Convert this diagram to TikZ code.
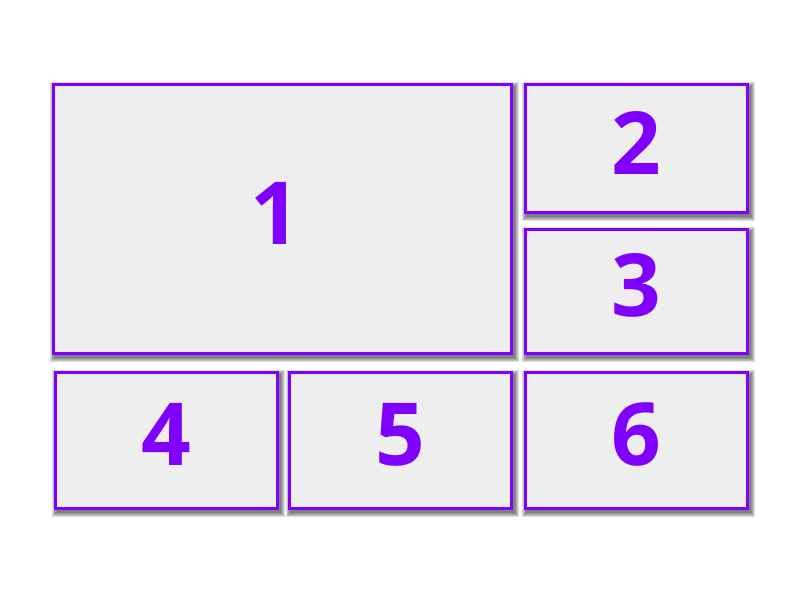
\documentclass[tikz,border=0pt]{standalone}
\usepackage{fontspec}
\setmainfont{Open Sans}
\usetikzlibrary{backgrounds}
\definecolor{violet}{RGB}{127,0,255}
\definecolor{panegray}{RGB}{238,238,238}

\begin{document}
\begin{tikzpicture}[x=1pt, y=-1pt, inner sep=0pt,
      pane/.style={rectangle, draw=violet, fill=panegray, line width=3pt,
        text=violet, text depth=12pt,
        font=\fontsize{87}{87}\selectfont\bfseries},
      shade/.style={fill=black, opacity=.13}]
      \useasboundingbox (0,0) rectangle (800,601);
      % top row: big pane and two small ones
      \node[pane, minimum width=458pt, minimum height=268pt] (p_1) at(282,219) {\kern-14pt1};
      \node[pane, minimum width=222pt, minimum height=127.5pt] (p_2) at(636,148.75) {2};
      \node[pane, minimum width=222pt, minimum height=123pt] (p_3) at(636,291.5) {3};
      % bottom row
      \node[pane, minimum width=222pt, minimum height=135.5pt] (p_4) at(166,440.25) {4};
      \node[pane, minimum width=222pt, minimum height=135.5pt] (p_5) at(400,440.25) {5};
      \node[pane, minimum width=222pt, minimum height=135.5pt] (p_6) at(636,440.25) {6};
      % soft shadows
      \begin{scope}[on background layer]
        \foreach \p in {p_1,p_2,p_3,p_4,p_5,p_6}
          \foreach \b in {0,1,2,3,4}
            \fill[shade] ([shift={(2pt-\b pt,-3pt-\b pt)}]\p.south west)
              rectangle ([shift={(2pt+\b pt,-3pt+\b pt)}]\p.north east);
      \end{scope}
  \end{tikzpicture}
\end{document}
